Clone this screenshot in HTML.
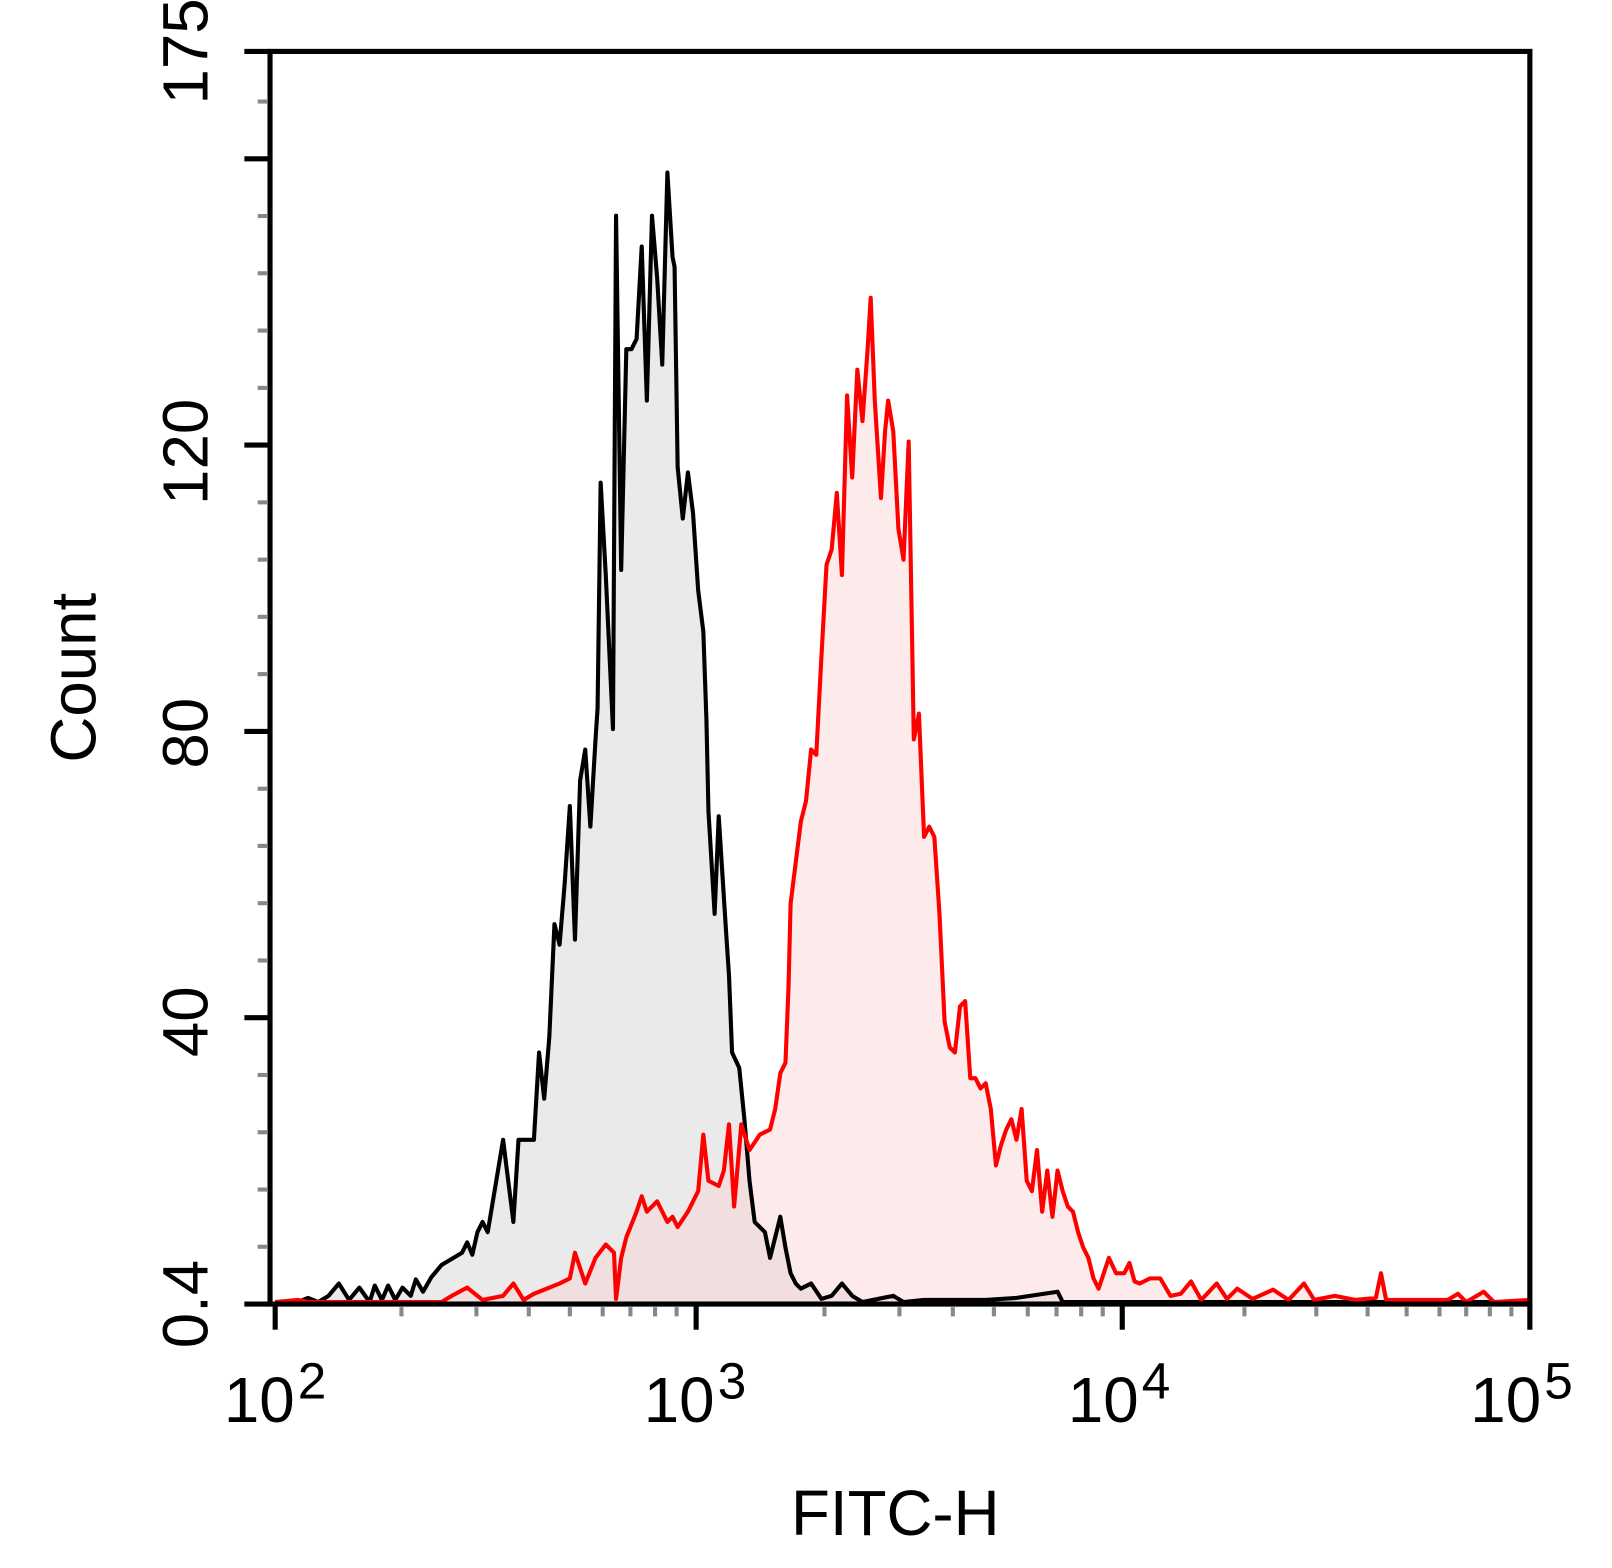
<!DOCTYPE html>
<html><head><style>body{margin:0;background:#fff}svg{display:block}</style></head><body>
<svg width="1612" height="1568" viewBox="0 0 1570 1527" xmlns="http://www.w3.org/2000/svg" font-family="Liberation Sans, Arial, sans-serif">
<rect width="1570" height="1527" fill="#fff"/>
<polygon fill="#d8d8d8" fill-opacity="0.55" points="268,1270 268,1268 290,1268 300,1264 310,1268 320,1262 330,1250 340,1266 350,1254 360,1268 365,1252 372,1266 378,1252 385,1266 392,1254 400,1262 405,1246 412,1258 420,1244 430,1232 440,1226 450,1220 455,1210 460,1222 465,1200 470,1190 475,1200 480,1170 485,1140 490,1110 495,1150 500,1190 505,1110 512,1110 520,1110 525,1025 530,1070 535,1010 540,900 545,920 550,860 555,785 560,915 565,760 570,730 575,805 580,720 582,690 585,470 590,560 597,710 600,210 605,555 610,340 615,340 620,330 625,240 630,390 635,210 640,270 645,355 650,168 655,250 657,260 660,455 665,505 670,460 675,500 680,575 685,615 688,700 690,790 696,890 700,795 707,905 710,950 713,1025 720,1040 725,1090 730,1150 735,1190 745,1200 750,1225 760,1185 765,1215 770,1240 775,1250 780,1255 790,1250 800,1265 810,1262 820,1250 830,1262 840,1268 870,1262 880,1268 900,1266 930,1266 960,1266 990,1264 1030,1258 1035,1268 1490,1268 1490,1270"/>
<polygon fill="#fbd0d0" fill-opacity="0.45" points="268,1270 268,1268 290,1266 300,1268 430,1268 440,1262 455,1254 470,1266 490,1262 500,1250 510,1266 520,1260 530,1256 545,1250 555,1245 560,1220 570,1250 580,1225 590,1212 598,1220 600,1265 605,1225 610,1205 620,1180 625,1165 630,1180 640,1170 650,1190 655,1185 660,1195 670,1180 680,1160 685,1105 690,1150 700,1155 705,1140 710,1095 715,1175 722,1095 730,1120 740,1105 750,1100 755,1080 760,1045 765,1035 768,960 770,880 775,840 780,800 785,780 790,730 795,735 800,640 805,550 810,535 815,480 820,560 825,385 830,465 835,360 840,410 845,340 848,290 852,390 858,485 862,420 865,390 870,420 875,515 880,545 885,430 890,720 895,695 900,815 905,805 910,815 915,890 920,995 925,1020 930,1025 935,980 940,975 945,1050 950,1050 955,1060 960,1055 965,1080 970,1135 975,1115 980,1100 985,1090 990,1110 995,1080 1000,1150 1005,1160 1010,1120 1015,1180 1020,1140 1025,1185 1030,1140 1035,1160 1040,1175 1045,1180 1050,1200 1055,1215 1060,1225 1065,1245 1070,1255 1075,1240 1080,1225 1087,1240 1095,1240 1100,1230 1105,1248 1110,1250 1120,1245 1130,1245 1140,1262 1150,1260 1160,1248 1170,1266 1185,1250 1195,1265 1205,1255 1220,1265 1240,1256 1255,1266 1270,1250 1280,1266 1300,1262 1320,1266 1340,1264 1345,1240 1350,1266 1380,1266 1410,1266 1420,1260 1428,1268 1445,1258 1455,1268 1490,1266 1490,1270"/>
<polyline fill="none" stroke="#000" stroke-width="4" stroke-linejoin="round" points="268,1268 290,1268 300,1264 310,1268 320,1262 330,1250 340,1266 350,1254 360,1268 365,1252 372,1266 378,1252 385,1266 392,1254 400,1262 405,1246 412,1258 420,1244 430,1232 440,1226 450,1220 455,1210 460,1222 465,1200 470,1190 475,1200 480,1170 485,1140 490,1110 495,1150 500,1190 505,1110 512,1110 520,1110 525,1025 530,1070 535,1010 540,900 545,920 550,860 555,785 560,915 565,760 570,730 575,805 580,720 582,690 585,470 590,560 597,710 600,210 605,555 610,340 615,340 620,330 625,240 630,390 635,210 640,270 645,355 650,168 655,250 657,260 660,455 665,505 670,460 675,500 680,575 685,615 688,700 690,790 696,890 700,795 707,905 710,950 713,1025 720,1040 725,1090 730,1150 735,1190 745,1200 750,1225 760,1185 765,1215 770,1240 775,1250 780,1255 790,1250 800,1265 810,1262 820,1250 830,1262 840,1268 870,1262 880,1268 900,1266 930,1266 960,1266 990,1264 1030,1258 1035,1268 1490,1268"/>
<polyline fill="none" stroke="#f00" stroke-width="4" stroke-linejoin="round" points="268,1268 290,1266 300,1268 430,1268 440,1262 455,1254 470,1266 490,1262 500,1250 510,1266 520,1260 530,1256 545,1250 555,1245 560,1220 570,1250 580,1225 590,1212 598,1220 600,1265 605,1225 610,1205 620,1180 625,1165 630,1180 640,1170 650,1190 655,1185 660,1195 670,1180 680,1160 685,1105 690,1150 700,1155 705,1140 710,1095 715,1175 722,1095 730,1120 740,1105 750,1100 755,1080 760,1045 765,1035 768,960 770,880 775,840 780,800 785,780 790,730 795,735 800,640 805,550 810,535 815,480 820,560 825,385 830,465 835,360 840,410 845,340 848,290 852,390 858,485 862,420 865,390 870,420 875,515 880,545 885,430 890,720 895,695 900,815 905,805 910,815 915,890 920,995 925,1020 930,1025 935,980 940,975 945,1050 950,1050 955,1060 960,1055 965,1080 970,1135 975,1115 980,1100 985,1090 990,1110 995,1080 1000,1150 1005,1160 1010,1120 1015,1180 1020,1140 1025,1185 1030,1140 1035,1160 1040,1175 1045,1180 1050,1200 1055,1215 1060,1225 1065,1245 1070,1255 1075,1240 1080,1225 1087,1240 1095,1240 1100,1230 1105,1248 1110,1250 1120,1245 1130,1245 1140,1262 1150,1260 1160,1248 1170,1266 1185,1250 1195,1265 1205,1255 1220,1265 1240,1256 1255,1266 1270,1250 1280,1266 1300,1262 1320,1266 1340,1264 1345,1240 1350,1266 1380,1266 1410,1266 1420,1260 1428,1268 1445,1258 1455,1268 1490,1266"/>
<rect x="263" y="50" width="1227" height="1220" fill="none" stroke="#000" stroke-width="5"/>
<g stroke="#000" stroke-width="5">
<line x1="238" x2="263" y1="50" y2="50"/><line x1="238" x2="263" y1="154.6" y2="154.6"/><line x1="238" x2="263" y1="433.4" y2="433.4"/><line x1="238" x2="263" y1="712.3" y2="712.3"/><line x1="238" x2="263" y1="991.1" y2="991.1"/><line x1="238" x2="263" y1="1270" y2="1270"/>
<line x1="268" x2="268" y1="1270" y2="1295"/><line x1="678" x2="678" y1="1270" y2="1295"/><line x1="1093" x2="1093" y1="1270" y2="1295"/><line x1="1490" x2="1490" y1="1270" y2="1295"/>
</g>
<g stroke="#888" stroke-width="4">
<line x1="251" x2="260" y1="1214.2" y2="1214.2"/><line x1="251" x2="260" y1="1158.5" y2="1158.5"/><line x1="251" x2="260" y1="1102.7" y2="1102.7"/><line x1="251" x2="260" y1="1046.9" y2="1046.9"/><line x1="251" x2="260" y1="935.4" y2="935.4"/><line x1="251" x2="260" y1="879.6" y2="879.6"/><line x1="251" x2="260" y1="823.8" y2="823.8"/><line x1="251" x2="260" y1="768.1" y2="768.1"/><line x1="251" x2="260" y1="656.5" y2="656.5"/><line x1="251" x2="260" y1="600.7" y2="600.7"/><line x1="251" x2="260" y1="545" y2="545"/><line x1="251" x2="260" y1="489.2" y2="489.2"/><line x1="251" x2="260" y1="377.7" y2="377.7"/><line x1="251" x2="260" y1="321.9" y2="321.9"/><line x1="251" x2="260" y1="266.1" y2="266.1"/><line x1="251" x2="260" y1="210.3" y2="210.3"/><line x1="251" x2="260" y1="98.8" y2="98.8"/>
<line x1="391" x2="391" y1="1273" y2="1282"/><line x1="464" x2="464" y1="1273" y2="1282"/><line x1="515" x2="515" y1="1273" y2="1282"/><line x1="555" x2="555" y1="1273" y2="1282"/><line x1="587" x2="587" y1="1273" y2="1282"/><line x1="614" x2="614" y1="1273" y2="1282"/><line x1="638" x2="638" y1="1273" y2="1282"/><line x1="659" x2="659" y1="1273" y2="1282"/>
<line x1="803" x2="803" y1="1273" y2="1282"/><line x1="876" x2="876" y1="1273" y2="1282"/><line x1="928" x2="928" y1="1273" y2="1282"/><line x1="968" x2="968" y1="1273" y2="1282"/><line x1="1001" x2="1001" y1="1273" y2="1282"/><line x1="1029" x2="1029" y1="1273" y2="1282"/><line x1="1053" x2="1053" y1="1273" y2="1282"/><line x1="1074" x2="1074" y1="1273" y2="1282"/>
<line x1="1212" x2="1212" y1="1273" y2="1282"/><line x1="1282" x2="1282" y1="1273" y2="1282"/><line x1="1332" x2="1332" y1="1273" y2="1282"/><line x1="1370" x2="1370" y1="1273" y2="1282"/><line x1="1402" x2="1402" y1="1273" y2="1282"/><line x1="1428" x2="1428" y1="1273" y2="1282"/><line x1="1451" x2="1451" y1="1273" y2="1282"/><line x1="1472" x2="1472" y1="1273" y2="1282"/>
</g>
<g font-size="62" fill="#000">
<text transform="translate(202,1270) rotate(-90)" text-anchor="middle">0.4</text>
<text transform="translate(202,995) rotate(-90)" text-anchor="middle">40</text>
<text transform="translate(202,714) rotate(-90)" text-anchor="middle">80</text>
<text transform="translate(202,440) rotate(-90)" text-anchor="middle">120</text>
<text transform="translate(202,50) rotate(-90)" text-anchor="middle">175</text>
<text transform="translate(93,660) rotate(-90)" text-anchor="middle">Count</text>
<text x="218" y="1385">10</text><text x="290" y="1362" font-size="50">2</text>
<text x="627" y="1385">10</text><text x="699" y="1362" font-size="50">3</text>
<text x="1040" y="1385">10</text><text x="1112" y="1362" font-size="50">4</text>
<text x="1432" y="1385">10</text><text x="1504" y="1362" font-size="50">5</text>
<text x="872" y="1495" text-anchor="middle">FITC-H</text>
</g>
</svg>
</body></html>
